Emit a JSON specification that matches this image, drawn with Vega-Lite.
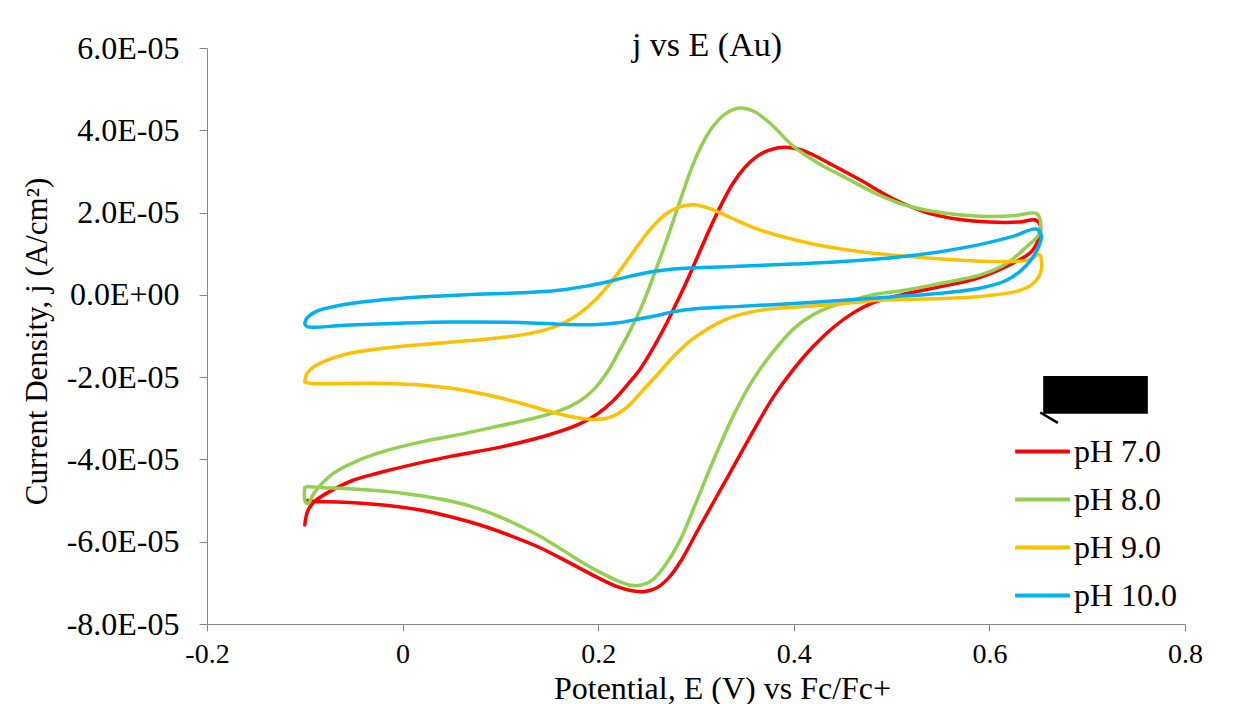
{
  "$schema": "https://vega.github.io/schema/vega-lite/v6.json",
  "width": 978,
  "height": 576,
  "autosize": {"type": "none"},
  "padding": {"left": 207, "top": 48, "right": 59, "bottom": 80},
  "background": "white",
  "config": {"view": {"stroke": null}, "font": "Liberation Serif"},
  "title": {"text": "j vs E (Au)", "fontSize": 34, "fontWeight": "normal", "font": "Liberation Serif", "color": "#000000", "anchor": "middle", "baseline": "alphabetic", "dy": 62, "dx": 11},
  "datasets": {
    "cv": [
      {"pH": "pH 7.0", "i": 1, "E": -0.100, "j": -5.59e-5},
      {"pH": "pH 7.0", "i": 2, "E": -0.097, "j": -5.25e-5},
      {"pH": "pH 7.0", "i": 3, "E": -0.090, "j": -5.02e-5},
      {"pH": "pH 7.0", "i": 4, "E": -0.070, "j": -4.72e-5},
      {"pH": "pH 7.0", "i": 5, "E": -0.050, "j": -4.50e-5},
      {"pH": "pH 7.0", "i": 6, "E": -0.025, "j": -4.33e-5},
      {"pH": "pH 7.0", "i": 7, "E": 0.000, "j": -4.18e-5},
      {"pH": "pH 7.0", "i": 8, "E": 0.050, "j": -3.92e-5},
      {"pH": "pH 7.0", "i": 9, "E": 0.100, "j": -3.70e-5},
      {"pH": "pH 7.0", "i": 10, "E": 0.150, "j": -3.40e-5},
      {"pH": "pH 7.0", "i": 11, "E": 0.180, "j": -3.15e-5},
      {"pH": "pH 7.0", "i": 12, "E": 0.200, "j": -2.88e-5},
      {"pH": "pH 7.0", "i": 13, "E": 0.215, "j": -2.58e-5},
      {"pH": "pH 7.0", "i": 14, "E": 0.230, "j": -2.18e-5},
      {"pH": "pH 7.0", "i": 15, "E": 0.243, "j": -1.80e-5},
      {"pH": "pH 7.0", "i": 16, "E": 0.256, "j": -1.30e-5},
      {"pH": "pH 7.0", "i": 17, "E": 0.270, "j": -0.69e-5},
      {"pH": "pH 7.0", "i": 18, "E": 0.280, "j": -0.20e-5},
      {"pH": "pH 7.0", "i": 19, "E": 0.290, "j": 0.30e-5},
      {"pH": "pH 7.0", "i": 20, "E": 0.302, "j": 0.95e-5},
      {"pH": "pH 7.0", "i": 21, "E": 0.314, "j": 1.60e-5},
      {"pH": "pH 7.0", "i": 22, "E": 0.326, "j": 2.20e-5},
      {"pH": "pH 7.0", "i": 23, "E": 0.338, "j": 2.72e-5},
      {"pH": "pH 7.0", "i": 24, "E": 0.350, "j": 3.10e-5},
      {"pH": "pH 7.0", "i": 25, "E": 0.362, "j": 3.36e-5},
      {"pH": "pH 7.0", "i": 26, "E": 0.375, "j": 3.52e-5},
      {"pH": "pH 7.0", "i": 27, "E": 0.390, "j": 3.59e-5},
      {"pH": "pH 7.0", "i": 28, "E": 0.405, "j": 3.54e-5},
      {"pH": "pH 7.0", "i": 29, "E": 0.420, "j": 3.40e-5},
      {"pH": "pH 7.0", "i": 30, "E": 0.440, "j": 3.15e-5},
      {"pH": "pH 7.0", "i": 31, "E": 0.468, "j": 2.79e-5},
      {"pH": "pH 7.0", "i": 32, "E": 0.502, "j": 2.33e-5},
      {"pH": "pH 7.0", "i": 33, "E": 0.536, "j": 2.00e-5},
      {"pH": "pH 7.0", "i": 34, "E": 0.570, "j": 1.83e-5},
      {"pH": "pH 7.0", "i": 35, "E": 0.600, "j": 1.77e-5},
      {"pH": "pH 7.0", "i": 36, "E": 0.630, "j": 1.77e-5},
      {"pH": "pH 7.0", "i": 37, "E": 0.647, "j": 1.82e-5},
      {"pH": "pH 7.0", "i": 38, "E": 0.652, "j": 1.70e-5},
      {"pH": "pH 7.0", "i": 39, "E": 0.650, "j": 1.35e-5},
      {"pH": "pH 7.0", "i": 40, "E": 0.643, "j": 1.05e-5},
      {"pH": "pH 7.0", "i": 41, "E": 0.624, "j": 0.77e-5},
      {"pH": "pH 7.0", "i": 42, "E": 0.590, "j": 0.42e-5},
      {"pH": "pH 7.0", "i": 43, "E": 0.550, "j": 0.20e-5},
      {"pH": "pH 7.0", "i": 44, "E": 0.510, "j": 0.00},
      {"pH": "pH 7.0", "i": 45, "E": 0.480, "j": -0.20e-5},
      {"pH": "pH 7.0", "i": 46, "E": 0.460, "j": -0.45e-5},
      {"pH": "pH 7.0", "i": 47, "E": 0.440, "j": -0.80e-5},
      {"pH": "pH 7.0", "i": 48, "E": 0.420, "j": -1.25e-5},
      {"pH": "pH 7.0", "i": 49, "E": 0.400, "j": -1.80e-5},
      {"pH": "pH 7.0", "i": 50, "E": 0.380, "j": -2.45e-5},
      {"pH": "pH 7.0", "i": 51, "E": 0.360, "j": -3.25e-5},
      {"pH": "pH 7.0", "i": 52, "E": 0.340, "j": -4.10e-5},
      {"pH": "pH 7.0", "i": 53, "E": 0.320, "j": -4.95e-5},
      {"pH": "pH 7.0", "i": 54, "E": 0.300, "j": -5.80e-5},
      {"pH": "pH 7.0", "i": 55, "E": 0.285, "j": -6.45e-5},
      {"pH": "pH 7.0", "i": 56, "E": 0.272, "j": -6.88e-5},
      {"pH": "pH 7.0", "i": 57, "E": 0.260, "j": -7.12e-5},
      {"pH": "pH 7.0", "i": 58, "E": 0.248, "j": -7.21e-5},
      {"pH": "pH 7.0", "i": 59, "E": 0.236, "j": -7.20e-5},
      {"pH": "pH 7.0", "i": 60, "E": 0.220, "j": -7.10e-5},
      {"pH": "pH 7.0", "i": 61, "E": 0.200, "j": -6.88e-5},
      {"pH": "pH 7.0", "i": 62, "E": 0.180, "j": -6.63e-5},
      {"pH": "pH 7.0", "i": 63, "E": 0.160, "j": -6.38e-5},
      {"pH": "pH 7.0", "i": 64, "E": 0.140, "j": -6.14e-5},
      {"pH": "pH 7.0", "i": 65, "E": 0.110, "j": -5.85e-5},
      {"pH": "pH 7.0", "i": 66, "E": 0.080, "j": -5.60e-5},
      {"pH": "pH 7.0", "i": 67, "E": 0.050, "j": -5.40e-5},
      {"pH": "pH 7.0", "i": 68, "E": 0.018, "j": -5.23e-5},
      {"pH": "pH 7.0", "i": 69, "E": -0.020, "j": -5.11e-5},
      {"pH": "pH 7.0", "i": 70, "E": -0.060, "j": -5.04e-5},
      {"pH": "pH 7.0", "i": 71, "E": -0.090, "j": -5.02e-5},
      {"pH": "pH 7.0", "i": 72, "E": -0.098, "j": -5.00e-5},

      {"pH": "pH 8.0", "i": 1, "E": -0.100, "j": -4.68e-5},
      {"pH": "pH 8.0", "i": 2, "E": -0.100, "j": -5.00e-5},
      {"pH": "pH 8.0", "i": 3, "E": -0.097, "j": -5.07e-5},
      {"pH": "pH 8.0", "i": 4, "E": -0.090, "j": -4.80e-5},
      {"pH": "pH 8.0", "i": 5, "E": -0.071, "j": -4.34e-5},
      {"pH": "pH 8.0", "i": 6, "E": -0.045, "j": -4.02e-5},
      {"pH": "pH 8.0", "i": 7, "E": -0.020, "j": -3.81e-5},
      {"pH": "pH 8.0", "i": 8, "E": 0.018, "j": -3.58e-5},
      {"pH": "pH 8.0", "i": 9, "E": 0.065, "j": -3.36e-5},
      {"pH": "pH 8.0", "i": 10, "E": 0.100, "j": -3.18e-5},
      {"pH": "pH 8.0", "i": 11, "E": 0.134, "j": -3.00e-5},
      {"pH": "pH 8.0", "i": 12, "E": 0.160, "j": -2.82e-5},
      {"pH": "pH 8.0", "i": 13, "E": 0.180, "j": -2.60e-5},
      {"pH": "pH 8.0", "i": 14, "E": 0.195, "j": -2.31e-5},
      {"pH": "pH 8.0", "i": 15, "E": 0.210, "j": -1.85e-5},
      {"pH": "pH 8.0", "i": 16, "E": 0.222, "j": -1.34e-5},
      {"pH": "pH 8.0", "i": 17, "E": 0.232, "j": -0.90e-5},
      {"pH": "pH 8.0", "i": 18, "E": 0.245, "j": -0.25e-5},
      {"pH": "pH 8.0", "i": 19, "E": 0.258, "j": 0.55e-5},
      {"pH": "pH 8.0", "i": 20, "E": 0.271, "j": 1.40e-5},
      {"pH": "pH 8.0", "i": 21, "E": 0.284, "j": 2.31e-5},
      {"pH": "pH 8.0", "i": 22, "E": 0.295, "j": 3.05e-5},
      {"pH": "pH 8.0", "i": 23, "E": 0.305, "j": 3.60e-5},
      {"pH": "pH 8.0", "i": 24, "E": 0.316, "j": 4.05e-5},
      {"pH": "pH 8.0", "i": 25, "E": 0.330, "j": 4.40e-5},
      {"pH": "pH 8.0", "i": 26, "E": 0.345, "j": 4.54e-5},
      {"pH": "pH 8.0", "i": 27, "E": 0.360, "j": 4.45e-5},
      {"pH": "pH 8.0", "i": 28, "E": 0.378, "j": 4.12e-5},
      {"pH": "pH 8.0", "i": 29, "E": 0.399, "j": 3.62e-5},
      {"pH": "pH 8.0", "i": 30, "E": 0.425, "j": 3.20e-5},
      {"pH": "pH 8.0", "i": 31, "E": 0.451, "j": 2.87e-5},
      {"pH": "pH 8.0", "i": 32, "E": 0.488, "j": 2.42e-5},
      {"pH": "pH 8.0", "i": 33, "E": 0.520, "j": 2.14e-5},
      {"pH": "pH 8.0", "i": 34, "E": 0.553, "j": 1.99e-5},
      {"pH": "pH 8.0", "i": 35, "E": 0.590, "j": 1.91e-5},
      {"pH": "pH 8.0", "i": 36, "E": 0.624, "j": 1.92e-5},
      {"pH": "pH 8.0", "i": 37, "E": 0.648, "j": 1.98e-5},
      {"pH": "pH 8.0", "i": 38, "E": 0.652, "j": 1.80e-5},
      {"pH": "pH 8.0", "i": 39, "E": 0.650, "j": 1.45e-5},
      {"pH": "pH 8.0", "i": 40, "E": 0.638, "j": 1.17e-5},
      {"pH": "pH 8.0", "i": 41, "E": 0.618, "j": 0.77e-5},
      {"pH": "pH 8.0", "i": 42, "E": 0.590, "j": 0.48e-5},
      {"pH": "pH 8.0", "i": 43, "E": 0.550, "j": 0.28e-5},
      {"pH": "pH 8.0", "i": 44, "E": 0.510, "j": 0.10e-5},
      {"pH": "pH 8.0", "i": 45, "E": 0.480, "j": 0.00},
      {"pH": "pH 8.0", "i": 46, "E": 0.460, "j": -0.13e-5},
      {"pH": "pH 8.0", "i": 47, "E": 0.440, "j": -0.27e-5},
      {"pH": "pH 8.0", "i": 48, "E": 0.420, "j": -0.48e-5},
      {"pH": "pH 8.0", "i": 49, "E": 0.400, "j": -0.82e-5},
      {"pH": "pH 8.0", "i": 50, "E": 0.380, "j": -1.35e-5},
      {"pH": "pH 8.0", "i": 51, "E": 0.360, "j": -2.00e-5},
      {"pH": "pH 8.0", "i": 52, "E": 0.340, "j": -2.85e-5},
      {"pH": "pH 8.0", "i": 53, "E": 0.320, "j": -3.90e-5},
      {"pH": "pH 8.0", "i": 54, "E": 0.300, "j": -5.05e-5},
      {"pH": "pH 8.0", "i": 55, "E": 0.285, "j": -5.90e-5},
      {"pH": "pH 8.0", "i": 56, "E": 0.270, "j": -6.52e-5},
      {"pH": "pH 8.0", "i": 57, "E": 0.256, "j": -6.92e-5},
      {"pH": "pH 8.0", "i": 58, "E": 0.245, "j": -7.05e-5},
      {"pH": "pH 8.0", "i": 59, "E": 0.234, "j": -7.06e-5},
      {"pH": "pH 8.0", "i": 60, "E": 0.220, "j": -6.95e-5},
      {"pH": "pH 8.0", "i": 61, "E": 0.200, "j": -6.72e-5},
      {"pH": "pH 8.0", "i": 62, "E": 0.180, "j": -6.45e-5},
      {"pH": "pH 8.0", "i": 63, "E": 0.160, "j": -6.15e-5},
      {"pH": "pH 8.0", "i": 64, "E": 0.140, "j": -5.86e-5},
      {"pH": "pH 8.0", "i": 65, "E": 0.120, "j": -5.62e-5},
      {"pH": "pH 8.0", "i": 66, "E": 0.100, "j": -5.40e-5},
      {"pH": "pH 8.0", "i": 67, "E": 0.070, "j": -5.14e-5},
      {"pH": "pH 8.0", "i": 68, "E": 0.040, "j": -4.97e-5},
      {"pH": "pH 8.0", "i": 69, "E": 0.000, "j": -4.82e-5},
      {"pH": "pH 8.0", "i": 70, "E": -0.050, "j": -4.72e-5},
      {"pH": "pH 8.0", "i": 71, "E": -0.085, "j": -4.68e-5},
      {"pH": "pH 8.0", "i": 72, "E": -0.098, "j": -4.66e-5},

      {"pH": "pH 9.0", "i": 1, "E": -0.100, "j": -2.12e-5},
      {"pH": "pH 9.0", "i": 2, "E": -0.098, "j": -1.92e-5},
      {"pH": "pH 9.0", "i": 3, "E": -0.091, "j": -1.75e-5},
      {"pH": "pH 9.0", "i": 4, "E": -0.075, "j": -1.57e-5},
      {"pH": "pH 9.0", "i": 5, "E": -0.054, "j": -1.42e-5},
      {"pH": "pH 9.0", "i": 6, "E": -0.020, "j": -1.30e-5},
      {"pH": "pH 9.0", "i": 7, "E": 0.014, "j": -1.22e-5},
      {"pH": "pH 9.0", "i": 8, "E": 0.060, "j": -1.13e-5},
      {"pH": "pH 9.0", "i": 9, "E": 0.100, "j": -1.04e-5},
      {"pH": "pH 9.0", "i": 10, "E": 0.125, "j": -0.96e-5},
      {"pH": "pH 9.0", "i": 11, "E": 0.150, "j": -0.82e-5},
      {"pH": "pH 9.0", "i": 12, "E": 0.165, "j": -0.68e-5},
      {"pH": "pH 9.0", "i": 13, "E": 0.180, "j": -0.47e-5},
      {"pH": "pH 9.0", "i": 14, "E": 0.195, "j": -0.17e-5},
      {"pH": "pH 9.0", "i": 15, "E": 0.210, "j": 0.22e-5},
      {"pH": "pH 9.0", "i": 16, "E": 0.225, "j": 0.68e-5},
      {"pH": "pH 9.0", "i": 17, "E": 0.240, "j": 1.18e-5},
      {"pH": "pH 9.0", "i": 18, "E": 0.255, "j": 1.64e-5},
      {"pH": "pH 9.0", "i": 19, "E": 0.270, "j": 1.98e-5},
      {"pH": "pH 9.0", "i": 20, "E": 0.285, "j": 2.15e-5},
      {"pH": "pH 9.0", "i": 21, "E": 0.298, "j": 2.19e-5},
      {"pH": "pH 9.0", "i": 22, "E": 0.315, "j": 2.09e-5},
      {"pH": "pH 9.0", "i": 23, "E": 0.335, "j": 1.88e-5},
      {"pH": "pH 9.0", "i": 24, "E": 0.365, "j": 1.58e-5},
      {"pH": "pH 9.0", "i": 25, "E": 0.417, "j": 1.25e-5},
      {"pH": "pH 9.0", "i": 26, "E": 0.468, "j": 1.05e-5},
      {"pH": "pH 9.0", "i": 27, "E": 0.519, "j": 0.93e-5},
      {"pH": "pH 9.0", "i": 28, "E": 0.570, "j": 0.84e-5},
      {"pH": "pH 9.0", "i": 29, "E": 0.607, "j": 0.81e-5},
      {"pH": "pH 9.0", "i": 30, "E": 0.641, "j": 0.85e-5},
      {"pH": "pH 9.0", "i": 31, "E": 0.651, "j": 0.98e-5},
      {"pH": "pH 9.0", "i": 32, "E": 0.653, "j": 0.60e-5},
      {"pH": "pH 9.0", "i": 33, "E": 0.645, "j": 0.28e-5},
      {"pH": "pH 9.0", "i": 34, "E": 0.630, "j": 0.10e-5},
      {"pH": "pH 9.0", "i": 35, "E": 0.590, "j": -0.04e-5},
      {"pH": "pH 9.0", "i": 36, "E": 0.550, "j": -0.09e-5},
      {"pH": "pH 9.0", "i": 37, "E": 0.488, "j": -0.13e-5},
      {"pH": "pH 9.0", "i": 38, "E": 0.447, "j": -0.22e-5},
      {"pH": "pH 9.0", "i": 39, "E": 0.400, "j": -0.30e-5},
      {"pH": "pH 9.0", "i": 40, "E": 0.370, "j": -0.36e-5},
      {"pH": "pH 9.0", "i": 41, "E": 0.350, "j": -0.45e-5},
      {"pH": "pH 9.0", "i": 42, "E": 0.330, "j": -0.60e-5},
      {"pH": "pH 9.0", "i": 43, "E": 0.311, "j": -0.84e-5},
      {"pH": "pH 9.0", "i": 44, "E": 0.294, "j": -1.12e-5},
      {"pH": "pH 9.0", "i": 45, "E": 0.277, "j": -1.50e-5},
      {"pH": "pH 9.0", "i": 46, "E": 0.260, "j": -1.95e-5},
      {"pH": "pH 9.0", "i": 47, "E": 0.243, "j": -2.39e-5},
      {"pH": "pH 9.0", "i": 48, "E": 0.228, "j": -2.76e-5},
      {"pH": "pH 9.0", "i": 49, "E": 0.214, "j": -2.96e-5},
      {"pH": "pH 9.0", "i": 50, "E": 0.200, "j": -3.03e-5},
      {"pH": "pH 9.0", "i": 51, "E": 0.185, "j": -3.01e-5},
      {"pH": "pH 9.0", "i": 52, "E": 0.168, "j": -2.94e-5},
      {"pH": "pH 9.0", "i": 53, "E": 0.150, "j": -2.83e-5},
      {"pH": "pH 9.0", "i": 54, "E": 0.120, "j": -2.63e-5},
      {"pH": "pH 9.0", "i": 55, "E": 0.086, "j": -2.43e-5},
      {"pH": "pH 9.0", "i": 56, "E": 0.050, "j": -2.27e-5},
      {"pH": "pH 9.0", "i": 57, "E": 0.018, "j": -2.19e-5},
      {"pH": "pH 9.0", "i": 58, "E": -0.030, "j": -2.15e-5},
      {"pH": "pH 9.0", "i": 59, "E": -0.095, "j": -2.15e-5},
      {"pH": "pH 9.0", "i": 60, "E": -0.100, "j": -2.12e-5},

      {"pH": "pH 10.0", "i": 1, "E": -0.100, "j": -0.70e-5},
      {"pH": "pH 10.0", "i": 2, "E": -0.098, "j": -0.57e-5},
      {"pH": "pH 10.0", "i": 3, "E": -0.088, "j": -0.40e-5},
      {"pH": "pH 10.0", "i": 4, "E": -0.065, "j": -0.26e-5},
      {"pH": "pH 10.0", "i": 5, "E": -0.037, "j": -0.16e-5},
      {"pH": "pH 10.0", "i": 6, "E": 0.000, "j": -0.08e-5},
      {"pH": "pH 10.0", "i": 7, "E": 0.065, "j": 0.00},
      {"pH": "pH 10.0", "i": 8, "E": 0.120, "j": 0.05e-5},
      {"pH": "pH 10.0", "i": 9, "E": 0.155, "j": 0.10e-5},
      {"pH": "pH 10.0", "i": 10, "E": 0.185, "j": 0.20e-5},
      {"pH": "pH 10.0", "i": 11, "E": 0.210, "j": 0.32e-5},
      {"pH": "pH 10.0", "i": 12, "E": 0.232, "j": 0.45e-5},
      {"pH": "pH 10.0", "i": 13, "E": 0.256, "j": 0.57e-5},
      {"pH": "pH 10.0", "i": 14, "E": 0.277, "j": 0.63e-5},
      {"pH": "pH 10.0", "i": 15, "E": 0.300, "j": 0.66e-5},
      {"pH": "pH 10.0", "i": 16, "E": 0.350, "j": 0.70e-5},
      {"pH": "pH 10.0", "i": 17, "E": 0.400, "j": 0.75e-5},
      {"pH": "pH 10.0", "i": 18, "E": 0.450, "j": 0.81e-5},
      {"pH": "pH 10.0", "i": 19, "E": 0.500, "j": 0.90e-5},
      {"pH": "pH 10.0", "i": 20, "E": 0.550, "j": 1.05e-5},
      {"pH": "pH 10.0", "i": 21, "E": 0.590, "j": 1.22e-5},
      {"pH": "pH 10.0", "i": 22, "E": 0.624, "j": 1.42e-5},
      {"pH": "pH 10.0", "i": 23, "E": 0.648, "j": 1.60e-5},
      {"pH": "pH 10.0", "i": 24, "E": 0.653, "j": 1.45e-5},
      {"pH": "pH 10.0", "i": 25, "E": 0.650, "j": 1.15e-5},
      {"pH": "pH 10.0", "i": 26, "E": 0.638, "j": 0.72e-5},
      {"pH": "pH 10.0", "i": 27, "E": 0.618, "j": 0.36e-5},
      {"pH": "pH 10.0", "i": 28, "E": 0.590, "j": 0.16e-5},
      {"pH": "pH 10.0", "i": 29, "E": 0.550, "j": 0.04e-5},
      {"pH": "pH 10.0", "i": 30, "E": 0.500, "j": -0.05e-5},
      {"pH": "pH 10.0", "i": 31, "E": 0.447, "j": -0.14e-5},
      {"pH": "pH 10.0", "i": 32, "E": 0.400, "j": -0.21e-5},
      {"pH": "pH 10.0", "i": 33, "E": 0.345, "j": -0.28e-5},
      {"pH": "pH 10.0", "i": 34, "E": 0.300, "j": -0.34e-5},
      {"pH": "pH 10.0", "i": 35, "E": 0.277, "j": -0.41e-5},
      {"pH": "pH 10.0", "i": 36, "E": 0.260, "j": -0.50e-5},
      {"pH": "pH 10.0", "i": 37, "E": 0.243, "j": -0.58e-5},
      {"pH": "pH 10.0", "i": 38, "E": 0.220, "j": -0.68e-5},
      {"pH": "pH 10.0", "i": 39, "E": 0.200, "j": -0.72e-5},
      {"pH": "pH 10.0", "i": 40, "E": 0.168, "j": -0.72e-5},
      {"pH": "pH 10.0", "i": 41, "E": 0.120, "j": -0.67e-5},
      {"pH": "pH 10.0", "i": 42, "E": 0.050, "j": -0.66e-5},
      {"pH": "pH 10.0", "i": 43, "E": -0.003, "j": -0.69e-5},
      {"pH": "pH 10.0", "i": 44, "E": -0.060, "j": -0.74e-5},
      {"pH": "pH 10.0", "i": 45, "E": -0.098, "j": -0.77e-5},
      {"pH": "pH 10.0", "i": 46, "E": -0.100, "j": -0.70e-5}
    ],
    "box": [{"x1": 0.655, "x2": 0.762, "y1": -1.97e-5, "y2": -2.89e-5}],
    "arrow": [{"x1": 0.652, "x2": 0.670, "y1": -2.86e-5, "y2": -3.11e-5}]
  },
  "layer": [
    {
      "data": {"name": "cv"},
      "mark": {"type": "line", "interpolate": "catmull-rom", "strokeWidth": 3.5, "strokeCap": "round", "strokeJoin": "round"},
      "encoding": {
        "x": {
          "field": "E", "type": "quantitative",
          "scale": {"domain": [-0.2, 0.8], "nice": false, "zero": false},
          "axis": {
            "title": "Potential, E (V) vs Fc/Fc+",
            "values": [-0.2, 0, 0.2, 0.4, 0.6, 0.8],
            "labelExpr": "datum.value == 0 ? '0' : (datum.value < 0 ? '-' : '') + format(abs(datum.value), '.1f')",
            "grid": false,
            "domainColor": "#868686", "tickColor": "#868686", "domainWidth": 1, "tickWidth": 1, "tickSize": 7,
            "labelFont": "Liberation Serif", "labelFontSize": 28, "labelColor": "#000000", "labelPadding": 9, "labelFlush": false, "labelOverlap": false,
            "titleFont": "Liberation Serif", "titleFontSize": 32, "titleFontWeight": "normal", "titleColor": "#000000",
            "titleX": 515, "titleY": 74, "titleBaseline": "alphabetic", "titleAlign": "center"
          }
        },
        "y": {
          "field": "j", "type": "quantitative",
          "scale": {"domain": [-8e-5, 6e-5], "nice": false, "zero": false},
          "axis": {
            "title": "Current Density, j (A/cm²)",
            "values": [-8e-5, -6e-5, -4e-5, -2e-5, 0, 2e-5, 4e-5, 6e-5],
            "labelExpr": "datum.value == 0 ? '0.0E+00' : (datum.value < 0 ? '-' : '') + replace(format(abs(datum.value), '.1e'), 'e-', 'E-0')",
            "grid": false,
            "domainColor": "#868686", "tickColor": "#868686", "domainWidth": 1, "tickWidth": 1, "tickSize": 8,
            "labelFont": "Liberation Serif", "labelFontSize": 32, "labelColor": "#000000", "labelPadding": 20, "labelFlush": false, "labelOverlap": false,
            "titleFont": "Liberation Serif", "titleFontSize": 31, "titleFontWeight": "normal", "titleColor": "#000000",
            "titleX": -161, "titleY": 293, "titleAngle": -90, "titleBaseline": "alphabetic", "titleAlign": "center"
          }
        },
        "color": {
          "field": "pH", "type": "nominal",
          "scale": {"domain": ["pH 7.0", "pH 8.0", "pH 9.0", "pH 10.0"], "range": ["#FF0000", "#92D050", "#FFC000", "#00B0F0"]},
          "legend": {
            "orient": "none", "legendX": 806, "legendY": 374, "title": null,
            "symbolType": "stroke", "symbolStrokeWidth": 4, "symbolSize": 3000,
            "labelFont": "Liberation Serif", "labelFontSize": 32, "labelColor": "#000000",
            "rowPadding": 2, "labelOffset": 2, "padding": 0
          }
        },
        "order": {"field": "i", "type": "quantitative"}
      }
    },
    {
      "data": {"name": "box"},
      "mark": {"type": "rect", "color": "#000000"},
      "encoding": {
        "x": {"field": "x1", "type": "quantitative", "title": "Potential, E (V) vs Fc/Fc+"},
        "x2": {"field": "x2"},
        "y": {"field": "y1", "type": "quantitative", "title": "Current Density, j (A/cm²)"},
        "y2": {"field": "y2"}
      }
    },
    {
      "data": {"name": "arrow"},
      "mark": {"type": "rule", "color": "#000000", "strokeWidth": 2.5},
      "encoding": {
        "x": {"field": "x1", "type": "quantitative", "title": "Potential, E (V) vs Fc/Fc+"},
        "x2": {"field": "x2"},
        "y": {"field": "y1", "type": "quantitative", "title": "Current Density, j (A/cm²)"},
        "y2": {"field": "y2"}
      }
    }
  ]
}
